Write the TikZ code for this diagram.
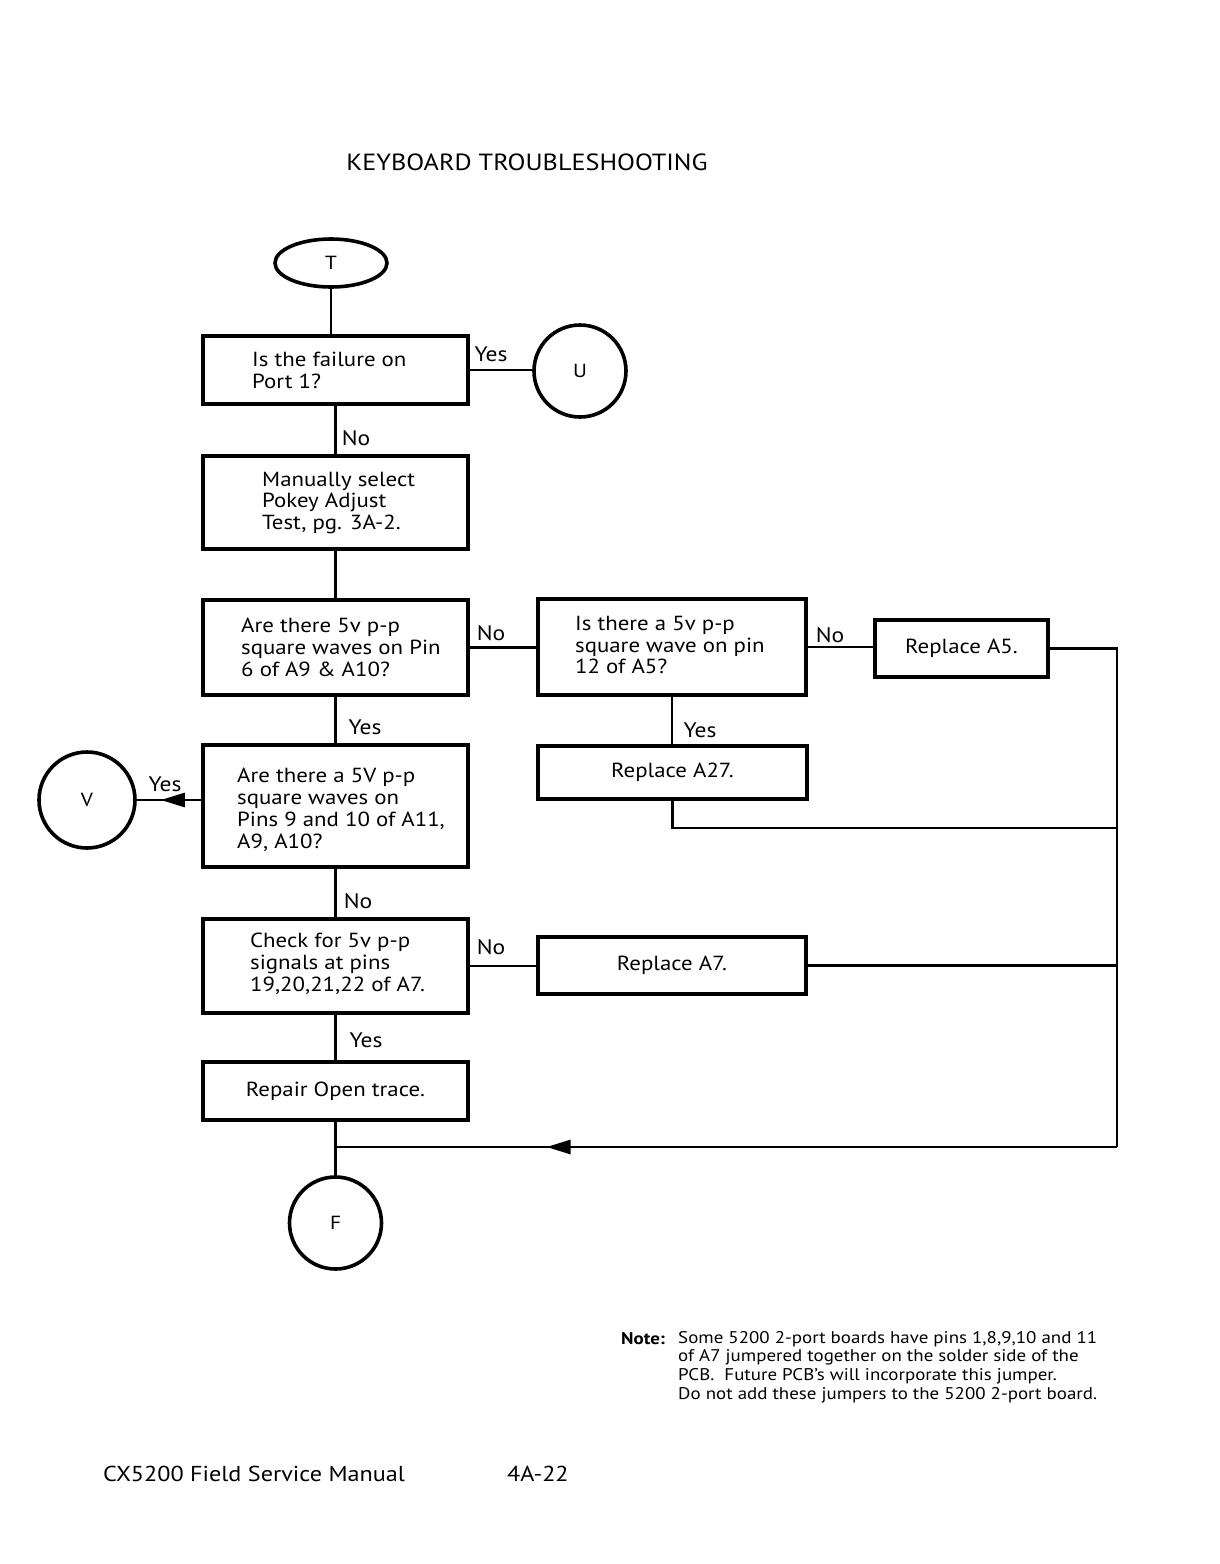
\documentclass[tikz,border=0pt]{standalone}
\usepackage{fontspec}
\setmainfont{PT Sans}[FakeStretch=1.12]
\usetikzlibrary{shapes.geometric,arrows.meta,decorations.markings}
\newcommand\bxfont{\fontsize{20.4}{21.9}\selectfont}
\newcommand\lblfont{\fontsize{21}{22}\selectfont}
\begin{document}
\begin{tikzpicture}[x=1pt,y=-1pt,
  box/.style={draw, line width=3.6pt, rectangle, inner sep=0pt, outer sep=0pt, anchor=north west, font=\bxfont},
  txt/.style={anchor=west, align=left, inner sep=0pt, font=\bxfont},
  term/.style={draw, line width=3.6pt, circle, inner sep=0pt, outer sep=0pt, font=\fontsize{19}{22}\selectfont},
  conn/.style={line width=2.6pt},
  lbl/.style={inner sep=0pt, font=\lblfont},
  midarrow/.style={postaction={decorate}, decoration={markings,
     mark=at position #1 with {\arrow{Triangle[length=24pt,width=14pt]}}}}
]
\useasboundingbox (0,0) rectangle (1220,1564);
\fill[white] (0,0) rectangle (1220,1564);

% title
\node[inner sep=0pt, font=\fontsize{23.4}{26}\selectfont] (title) at (527,162) {KEYBOARD TROUBLESHOOTING};

% terminals
\node[draw, ellipse, line width=3.6pt, minimum width=112pt, minimum height=48pt, inner sep=0pt, outer sep=0pt,
      font=\fontsize{19}{22}\selectfont] (T) at (331,263) {T};
\node[term, minimum size=92pt] (U) at (580,371) {U};
\node[term, minimum size=96pt] (V) at (87,800) {V};
\node[term, minimum size=92pt] (F) at (335.5,1223) {F};

% boxes
\node[box, minimum width=265pt, minimum height=68pt] (b1) at (203,336) {};
\node[txt] (b1t) at (252,370) {Is the failure on\\Port 1?};

\node[box, minimum width=265pt, minimum height=93pt] (b2) at (203,456) {};
\node[txt] (b2t) at (262,503) {Manually select\\Pokey Adjust\\Test, pg. 3A-2.};

\node[box, minimum width=265pt, minimum height=95pt] (b3) at (203,600) {};
\node[txt] (b3t) at (241,647) {Are there 5v p-p\\square waves on Pin\\6 of A9 \& A10?};

\node[box, minimum width=268pt, minimum height=96pt] (b4) at (538,599) {};
\node[txt] (b4t) at (575,645) {Is there a 5v p-p\\square wave on pin\\12 of A5?};

\node[box, minimum width=173pt, minimum height=57pt] (b5) at (875,620) {Replace A5.};

\node[box, minimum width=269pt, minimum height=53pt] (b6) at (538,746) {Replace A27.};

\node[box, minimum width=265pt, minimum height=122pt] (b7) at (203,745) {};
\node[txt] (b7t) at (237,810) {Are there a 5V p-p\\square waves on\\Pins 9 and 10 of A11,\\A9, A10?};

\node[box, minimum width=265pt, minimum height=94pt] (b8) at (203,919) {};
\node[txt] (b8t) at (250,964) {Check for 5v p-p\\signals at pins\\19,20,21,22 of A7.};

\node[box, minimum width=268pt, minimum height=57pt] (b9) at (538,937) {Replace A7.};

\node[box, minimum width=265pt, minimum height=58pt] (b10) at (203,1062) {Repair Open trace.};

% rail coordinates
\coordinate (rail) at (1117,648);
\coordinate (r27) at (1117,828);
\coordinate (jn) at (1117,1147);
\coordinate (jF) at (335.5,1147);

% connectors
\draw[conn] (T.south) -- (T.south |- b1.north);
\draw[conn] (b1.east) -- (b1.east -| U.west);
\draw[conn] (b1.south) -- (b2.north);
\draw[conn] (b2.south) -- (b3.north);
\draw[conn] (b3.east) -- (b3.east -| b4.west);
\draw[conn] (b4.east) -- (b4.east -| b5.west);
\draw[conn] (b5.east) -- (b5.east -| rail) -- (jn);
\draw[conn] (b4.south) -- (b4.south |- b6.north);
\draw[conn] (b6.south) |- (r27);
\draw[conn] (b3.south) -- (b7.north);
\draw[conn, midarrow=0.62] (b7.west |- V.east) -- (V.east);
\draw[conn] (b7.south) -- (b8.north);
\draw[conn] (b8.east) -- (b8.east -| b9.west);
\draw[conn] (b9.east) -- (b9.east -| rail);
\draw[conn] (b8.south) -- (b10.north);
\draw[conn] (b10.south) -- (F.north);
\draw[conn, midarrow=0.73] (jn) -- (jF);

% labels
\node[lbl] (l1) at (491,354) {Yes};
\node[lbl] (l2) at (356,438) {No};
\node[lbl] (l3) at (491,633) {No};
\node[lbl] (l4) at (830,635) {No};
\node[lbl] (l5) at (700,730) {Yes};
\node[lbl] (l6) at (365,727) {Yes};
\node[lbl] (l7) at (165,784) {Yes};
\node[lbl] (l8) at (358,901) {No};
\node[lbl] (l9) at (491,947) {No};
\node[lbl] (l10) at (366,1040) {Yes};

% note
\node[anchor=west, inner sep=0pt, font=\fontsize{16.9}{18.6}\selectfont\bfseries] (notelbl) at (621,1339) {Note:};
\node[anchor=north west, align=left, inner sep=0pt, font=\fontsize{16.9}{18.6}\selectfont] (note) at (678,1331)
  {Some 5200 2-port boards have pins 1,8,9,10 and 11\\
   of A7 jumpered together on the solder side of the\\
   PCB.\ \ Future PCB's will incorporate this jumper.\\
   Do not add these jumpers to the 5200 2-port board.};

% footer
\node[anchor=west, inner sep=0pt, font=\fontsize{21.6}{24}\selectfont] (foot1) at (103,1474) {CX5200 Field Service Manual};
\node[anchor=west, inner sep=0pt, font=\fontsize{21.6}{24}\selectfont] (foot2) at (507,1474) {4A-22};
\end{tikzpicture}
\end{document}
